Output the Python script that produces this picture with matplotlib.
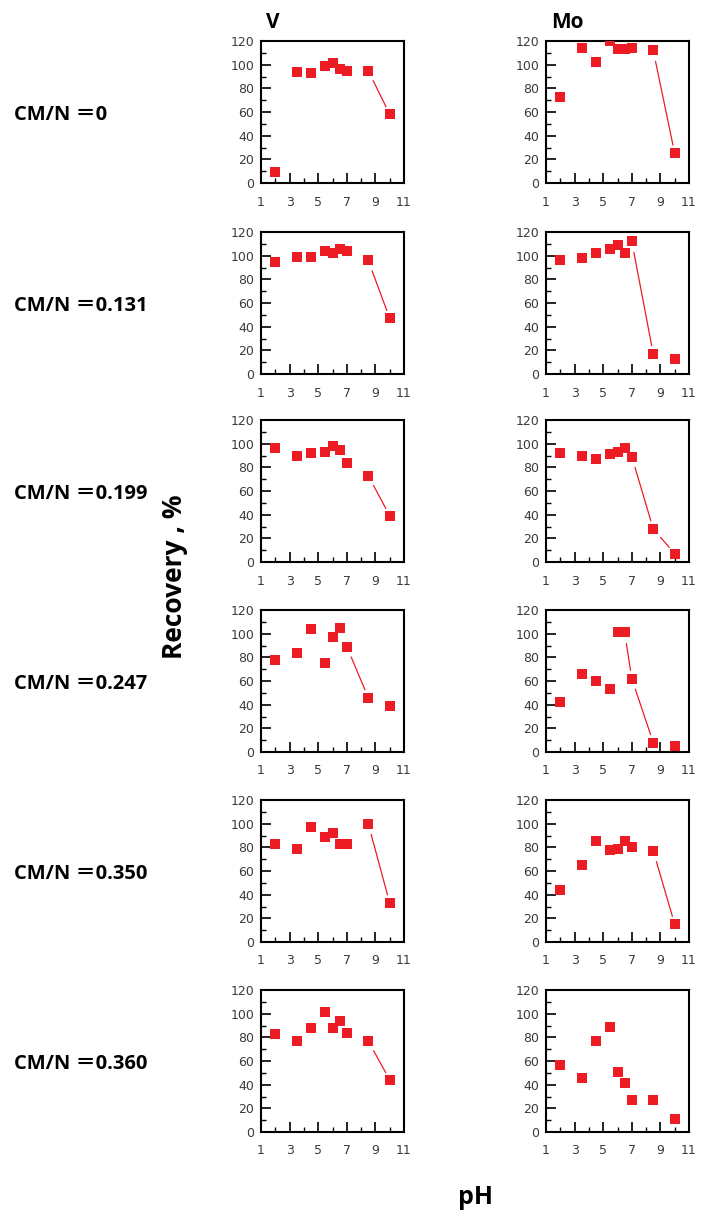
import matplotlib
matplotlib.use("Agg")
import matplotlib.pyplot as plt
from matplotlib.ticker import MultipleLocator

pH = [2, 3.5, 4.5, 5.5, 6, 6.5, 7, 8.5, 10]

cm_labels = ["0", "0.131", "0.199", "0.247", "0.350", "0.360"]

V_rec = [
    [9, 94, 93, 99, 101, 96, 95, 95, 58],
    [95, 99, 99, 104, 102, 106, 104, 96, 47],
    [96, 90, 92, 93, 98, 95, 84, 73, 39],
    [78, 84, 104, 75, 97, 105, 89, 46, 39],
    [83, 79, 97, 89, 92, 83, 83, 100, 33],
    [83, 77, 88, 101, 88, 94, 84, 77, 44],
]
Mo_rec = [
    [73, 114, 102, 120, 113, 113, 114, 112, 25],
    [96, 98, 102, 106, 109, 102, 112, 17, 13],
    [92, 90, 87, 91, 93, 96, 89, 28, 7],
    [42, 66, 60, 53, 101, 101, 62, 8, 5],
    [44, 65, 85, 78, 79, 85, 80, 77, 15],
    [57, 46, 77, 89, 51, 41, 27, 27, 11],
]
# pairs of point indices joined by a line segment
V_links = [[(7, 8)], [(7, 8)], [(7, 8)], [(6, 7)], [(7, 8)], [(7, 8)]]
Mo_links = [[(7, 8)], [(6, 7)], [(6, 7), (7, 8)], [(5, 6), (6, 7)], [(7, 8)], []]

xticks = [1, 3, 5, 7, 9, 11]
yticks = [0, 20, 40, 60, 80, 100, 120]

W, H = 702, 1214
fig = plt.figure(figsize=(W / 100, H / 100), dpi=100)

RED = "#ED1C24"
row_tops = [41, 232, 420, 610, 800, 990]
col_lefts = [261, 546]
aw, ah = 143, 142

label_font = ["Open Sans", "Noto Sans CJK JP", "DejaVu Sans"]


def draw(ax, vals, links):
    ax.plot(pH, vals, linestyle="none", marker="s", markersize=6.6,
            color=RED, markeredgewidth=0, zorder=3)
    for a, b in links:
        ax.annotate("", xy=(pH[b], vals[b]), xytext=(pH[a], vals[a]),
                    arrowprops=dict(arrowstyle="-", color=RED, lw=0.9,
                                    shrinkA=8, shrinkB=6))
    ax.set_xlim(1, 11)
    ax.set_ylim(0, 120)
    ax.set_xticks(xticks)
    ax.set_yticks(yticks)
    ax.xaxis.set_minor_locator(MultipleLocator(1))
    ax.yaxis.set_minor_locator(MultipleLocator(10))
    ax.tick_params(which="major", direction="in", length=7, width=1.2,
                   color="black", labelsize=9, labelcolor="#3a3a3a")
    ax.tick_params(which="minor", direction="in", length=3.6, width=1.0,
                   color="black")
    ax.tick_params(axis="x", which="major", pad=9)
    ax.tick_params(axis="y", which="major", pad=5)
    for s in ax.spines.values():
        s.set_linewidth(1.5)


for r in range(6):
    for c, (data, links) in enumerate([(V_rec, V_links), (Mo_rec, Mo_links)]):
        x0 = col_lefts[c] / W
        y0 = 1 - (row_tops[r] + ah) / H
        ax = fig.add_axes([x0, y0, aw / W, ah / H])
        draw(ax, data[r], links[r])
    yc = 1 - (row_tops[r] + ah / 2 + 3) / H
    fig.text(14 / W, yc, "CM/N \uff1d" + cm_labels[r], fontsize=14.5,
             fontweight="bold", family=label_font, ha="left", va="center")

fig.text(273 / W, 1 - 22 / H, "V", fontsize=15, fontweight="bold",
         family=label_font, ha="center", va="center")
fig.text(567 / W, 1 - 22 / H, "Mo", fontsize=15, fontweight="bold",
         family=label_font, ha="center", va="center")
fig.text(175 / W, 1 - 577 / H, "Recovery , %", fontsize=19,
         fontweight="bold", family=label_font, rotation=90,
         ha="center", va="center")
fig.text(476 / W, 1 - 1198 / H, "pH", fontsize=18, fontweight="bold",
         family=label_font, ha="center", va="center")

fig.savefig("out.png", dpi=100)
